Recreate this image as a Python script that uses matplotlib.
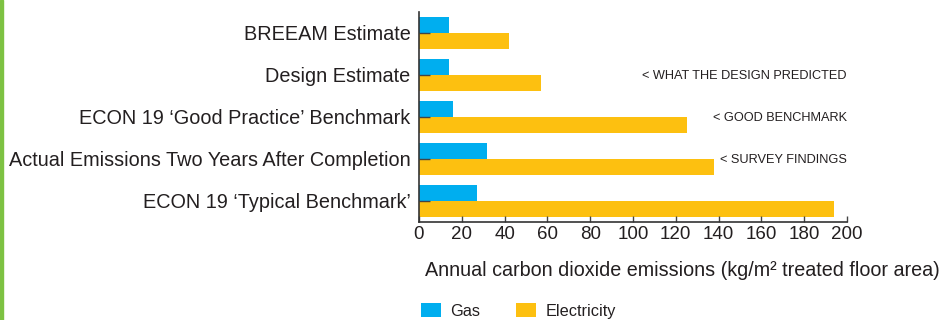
import matplotlib
matplotlib.use('Agg')
import matplotlib.pyplot as plt
from matplotlib.patches import Rectangle
import numpy as np

plt.rcParams['font.family'] = ['Liberation Sans', 'DejaVu Sans']

categories = ["BREEAM Estimate", "Design Estimate", "ECON 19 \u2018Good Practice\u2019 Benchmark",
              "Actual Emissions Two Years After Completion", "ECON 19 \u2018Typical Benchmark\u2019"]
gas = [14, 14, 16, 32, 27]
electricity = [42, 57, 125, 138, 194]
notes = ["", "< WHAT THE DESIGN PREDICTED", "< GOOD BENCHMARK", "< SURVEY FINDINGS", ""]
xticks = [0, 20, 40, 60, 80, 100, 120, 140, 160, 180, 200]

gas_col = '#00AEEF'
elec_col = '#FDC010'
txt_col = '#231F20'

fig = plt.figure(figsize=(9.43, 3.2), dpi=100)
ax = fig.add_axes([419 / 943, 1 - 222 / 320, 428 / 943, 210 / 320])

y = np.arange(len(categories))
h = 0.38
ax.barh(y - h / 2, gas, height=h, color=gas_col, label='Gas')
ax.barh(y + h / 2, electricity, height=h, color=elec_col, label='Electricity')

ax.set_xlim(0, 200)
ax.set_ylim(len(categories) - 0.5, -0.5)
ax.set_yticks(y)
ax.set_yticklabels(categories, fontsize=14.3, color=txt_col)
ax.set_xticks(xticks)
ax.set_xticklabels([str(t) for t in xticks], fontsize=13.5, color=txt_col)
ax.tick_params(axis='y', direction='in', length=8, width=1, color='#444444', pad=6)
ax.tick_params(axis='x', direction='in', length=4, width=1, color='#444444', pad=3)
for s in ['top', 'right']:
    ax.spines[s].set_visible(False)
for s in ['left', 'bottom']:
    ax.spines[s].set_color('#333333')
    ax.spines[s].set_linewidth(1.2)

for i, n in enumerate(notes):
    if n:
        ax.text(200, i + 0.03, n, ha='right', va='center', fontsize=9.2, color=txt_col)

fig.text(425 / 943, 1 - 270 / 320, "Annual carbon dioxide emissions (kg/m\u00b2 treated floor area)",
         ha='left', va='center', fontsize=14.2, color=txt_col)

# legend
handles, labels = ax.get_legend_handles_labels()
leg = fig.legend(handles, labels, loc='upper left', bbox_to_anchor=(421 / 943, 1 - 303 / 320),
                 ncol=2, frameon=False, fontsize=11.7, handlelength=1.2, handleheight=0.95,
                 handletextpad=0.6, columnspacing=2.2, borderaxespad=0, borderpad=0)
for t in leg.get_texts():
    t.set_color(txt_col)

fig.add_artist(Rectangle((0, 0), 3 / 943, 1, transform=fig.transFigure, color='#7DC242'))

fig.savefig('out.png', dpi=100)
